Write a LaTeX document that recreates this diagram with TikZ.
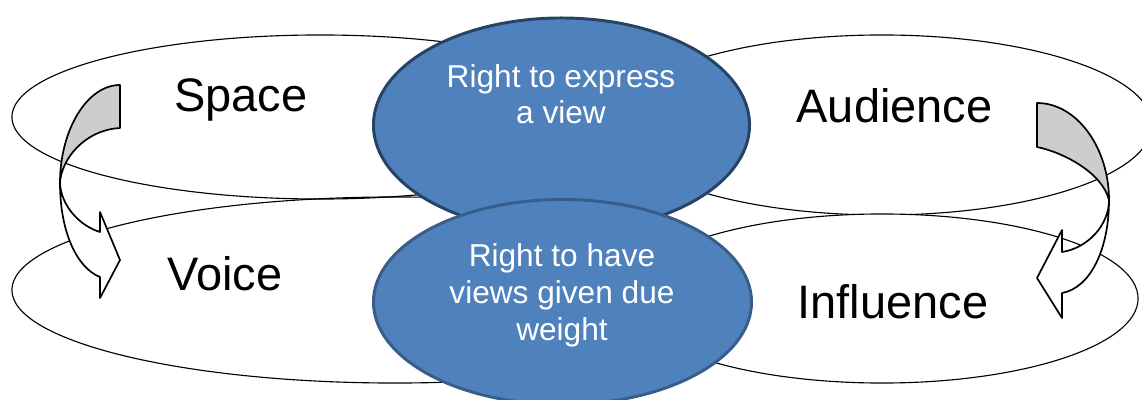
\documentclass[tikz,border=0pt]{standalone}
\usepackage{fontspec}
\setmainfont{Liberation Sans}
\usetikzlibrary{shapes.geometric}
\definecolor{ringblue}{RGB}{79,129,189}
\definecolor{rimdark}{RGB}{38,66,100}
\definecolor{rimsoft}{RGB}{56,93,138}
\definecolor{bandgray}{RGB}{205,205,205}

\begin{document}
\begin{tikzpicture}[x=0.025cm, y=-0.025cm,
  ring/.style = {shape=ellipse, draw, line width=0.8pt, inner sep=0pt},
  bubble/.style = {shape=ellipse, draw, line width=2.1pt,
    inner sep=0pt, fill=ringblue},
  big/.style = {font=\fontsize{33.4}{40}\selectfont, anchor=base, inner sep=0pt},
  small/.style = {font=\fontsize{22.5}{26}\selectfont, text=white,
    align=center, anchor=base, inner sep=0pt},
  band/.style = {draw, line width=1.2pt, line join=round}]
  \useasboundingbox (0,0) rectangle (1142,400);
  % outer rings
  \node[ring, minimum width=15.4cm, minimum height=4.1cm] (space) at (320,117) {};
  \node[ring, minimum width=13.5cm, minimum height=4.5cm] (audience) at (882,125) {};
  \node[ring, minimum width=19.15cm, minimum height=4.65cm] (voice) at (395,290) {};
  \node[ring, fill=white, minimum width=12.8cm, minimum height=4.225cm] (influence) at (882,298.5) {};
  % the two rights
  \node[bubble, draw=rimdark, minimum width=9.4cm, minimum height=5.35cm] (express) at (561.5,125) {};
  \node[bubble, draw=rimsoft, minimum width=9.45cm, minimum height=5.125cm] (weight) at (562.5,302) {};
  \node[small] (expresstxt) at (561,124) {Right to express\\a view};
  \node[small] (weighttxt) at (562,340) {Right to have\\views given due\\weight};
  % labels
  \node[big] (spacetxt) at (241,112) {Space};
  \node[big] (voicetxt) at (225,290) {Voice};
  \node[big] (audiencetxt) at (894.5,123) {Audience};
  \node[big] (influencetxt) at (893,318) {Influence};
  % curved arrows
  \filldraw[band, fill=bandgray] (120,85) .. controls (87,85) and (60,130) .. (60,183)
    .. controls (61,160) and (84,130) .. (120,128) -- cycle;
  \filldraw[band, fill=white] (60,183) .. controls (60,232) and (77,268) .. (100,277)
    -- (100,298) -- (120,260) -- (100,212) -- (100,232)
    .. controls (80,226) and (61,206) .. (60,183) -- cycle;
  \filldraw[band, fill=bandgray] (1037,103) .. controls (1077,103) and (1109,148) .. (1109,200)
    .. controls (1102,172) and (1062,152) .. (1037,147) -- cycle;
  \filldraw[band, fill=white] (1109,200) .. controls (1109,250) and (1090,288) .. (1062,293)
    -- (1062,318) -- (1037,278) -- (1062,230) -- (1062,252)
    .. controls (1088,248) and (1109,225) .. (1109,200) -- cycle;
\end{tikzpicture}
\end{document}
